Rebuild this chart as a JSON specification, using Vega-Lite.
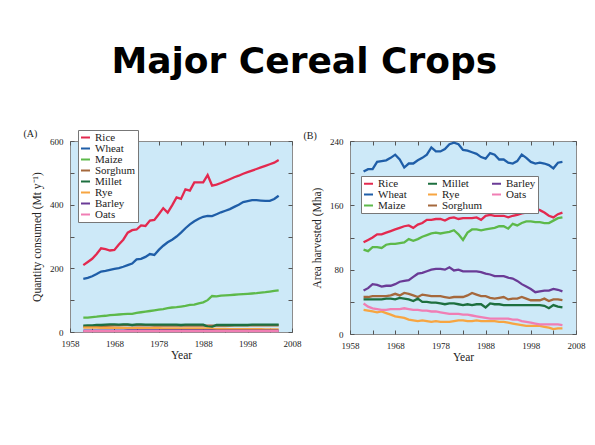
{
"$schema": "https://vega.github.io/schema/vega-lite/v6.json",
"background": "white",
"padding": {"left": 23, "top": 44, "right": 5, "bottom": 5},
"title": {"text": "Major Cereal Crops", "font": "DejaVu Sans", "fontWeight": "bold", "fontSize": 36, "color": "#000000", "anchor": "middle", "offset": 47},
"datasets": {
"A": [
{"crop":"Rice","year":1961,"value":210},{"crop":"Rice","year":1962,"value":220},{"crop":"Rice","year":1963,"value":230},{"crop":"Rice","year":1964,"value":245},{"crop":"Rice","year":1965,"value":263},{"crop":"Rice","year":1966,"value":260},{"crop":"Rice","year":1967,"value":256},{"crop":"Rice","year":1968,"value":258},{"crop":"Rice","year":1969,"value":275},{"crop":"Rice","year":1970,"value":290},{"crop":"Rice","year":1971,"value":312},{"crop":"Rice","year":1972,"value":320},{"crop":"Rice","year":1973,"value":322},{"crop":"Rice","year":1974,"value":335},{"crop":"Rice","year":1975,"value":333},{"crop":"Rice","year":1976,"value":350},{"crop":"Rice","year":1977,"value":352},{"crop":"Rice","year":1978,"value":370},{"crop":"Rice","year":1979,"value":389},{"crop":"Rice","year":1980,"value":375},{"crop":"Rice","year":1981,"value":398},{"crop":"Rice","year":1982,"value":423},{"crop":"Rice","year":1983,"value":418},{"crop":"Rice","year":1984,"value":448},{"crop":"Rice","year":1985,"value":444},{"crop":"Rice","year":1986,"value":470},{"crop":"Rice","year":1987,"value":470},{"crop":"Rice","year":1988,"value":470},{"crop":"Rice","year":1989,"value":493},{"crop":"Rice","year":1990,"value":460},{"crop":"Rice","year":1991,"value":463},{"crop":"Rice","year":1992,"value":468},{"crop":"Rice","year":1993,"value":474},{"crop":"Rice","year":1994,"value":480},{"crop":"Rice","year":1995,"value":486},{"crop":"Rice","year":1996,"value":491},{"crop":"Rice","year":1997,"value":497},{"crop":"Rice","year":1998,"value":502},{"crop":"Rice","year":1999,"value":507},{"crop":"Rice","year":2000,"value":512},{"crop":"Rice","year":2001,"value":517},{"crop":"Rice","year":2002,"value":522},{"crop":"Rice","year":2003,"value":527},{"crop":"Rice","year":2004,"value":532},{"crop":"Rice","year":2005,"value":540},
{"crop":"Wheat","year":1961,"value":167},{"crop":"Wheat","year":1962,"value":170},{"crop":"Wheat","year":1963,"value":175},{"crop":"Wheat","year":1964,"value":182},{"crop":"Wheat","year":1965,"value":190},{"crop":"Wheat","year":1966,"value":192},{"crop":"Wheat","year":1967,"value":195},{"crop":"Wheat","year":1968,"value":198},{"crop":"Wheat","year":1969,"value":201},{"crop":"Wheat","year":1970,"value":205},{"crop":"Wheat","year":1971,"value":210},{"crop":"Wheat","year":1972,"value":215},{"crop":"Wheat","year":1973,"value":228},{"crop":"Wheat","year":1974,"value":230},{"crop":"Wheat","year":1975,"value":236},{"crop":"Wheat","year":1976,"value":245},{"crop":"Wheat","year":1977,"value":242},{"crop":"Wheat","year":1978,"value":258},{"crop":"Wheat","year":1979,"value":271},{"crop":"Wheat","year":1980,"value":282},{"crop":"Wheat","year":1981,"value":290},{"crop":"Wheat","year":1982,"value":300},{"crop":"Wheat","year":1983,"value":312},{"crop":"Wheat","year":1984,"value":326},{"crop":"Wheat","year":1985,"value":338},{"crop":"Wheat","year":1986,"value":348},{"crop":"Wheat","year":1987,"value":356},{"crop":"Wheat","year":1988,"value":362},{"crop":"Wheat","year":1989,"value":365},{"crop":"Wheat","year":1990,"value":364},{"crop":"Wheat","year":1991,"value":370},{"crop":"Wheat","year":1992,"value":376},{"crop":"Wheat","year":1993,"value":381},{"crop":"Wheat","year":1994,"value":386},{"crop":"Wheat","year":1995,"value":393},{"crop":"Wheat","year":1996,"value":400},{"crop":"Wheat","year":1997,"value":408},{"crop":"Wheat","year":1998,"value":411},{"crop":"Wheat","year":1999,"value":414},{"crop":"Wheat","year":2000,"value":414},{"crop":"Wheat","year":2001,"value":413},{"crop":"Wheat","year":2002,"value":412},{"crop":"Wheat","year":2003,"value":412},{"crop":"Wheat","year":2004,"value":418},{"crop":"Wheat","year":2005,"value":428},
{"crop":"Maize","year":1961,"value":45},{"crop":"Maize","year":1962,"value":45},{"crop":"Maize","year":1963,"value":47},{"crop":"Maize","year":1964,"value":48},{"crop":"Maize","year":1965,"value":50},{"crop":"Maize","year":1966,"value":51},{"crop":"Maize","year":1967,"value":53},{"crop":"Maize","year":1968,"value":54},{"crop":"Maize","year":1969,"value":55},{"crop":"Maize","year":1970,"value":56},{"crop":"Maize","year":1971,"value":57},{"crop":"Maize","year":1972,"value":57},{"crop":"Maize","year":1973,"value":60},{"crop":"Maize","year":1974,"value":62},{"crop":"Maize","year":1975,"value":64},{"crop":"Maize","year":1976,"value":66},{"crop":"Maize","year":1977,"value":68},{"crop":"Maize","year":1978,"value":70},{"crop":"Maize","year":1979,"value":72},{"crop":"Maize","year":1980,"value":75},{"crop":"Maize","year":1981,"value":77},{"crop":"Maize","year":1982,"value":78},{"crop":"Maize","year":1983,"value":80},{"crop":"Maize","year":1984,"value":82},{"crop":"Maize","year":1985,"value":85},{"crop":"Maize","year":1986,"value":86},{"crop":"Maize","year":1987,"value":90},{"crop":"Maize","year":1988,"value":93},{"crop":"Maize","year":1989,"value":100},{"crop":"Maize","year":1990,"value":113},{"crop":"Maize","year":1991,"value":112},{"crop":"Maize","year":1992,"value":114},{"crop":"Maize","year":1993,"value":115},{"crop":"Maize","year":1994,"value":116},{"crop":"Maize","year":1995,"value":117},{"crop":"Maize","year":1996,"value":118},{"crop":"Maize","year":1997,"value":119},{"crop":"Maize","year":1998,"value":120},{"crop":"Maize","year":1999,"value":121},{"crop":"Maize","year":2000,"value":122},{"crop":"Maize","year":2001,"value":124},{"crop":"Maize","year":2002,"value":125},{"crop":"Maize","year":2003,"value":127},{"crop":"Maize","year":2004,"value":129},{"crop":"Maize","year":2005,"value":131},
{"crop":"Sorghum","year":1961,"value":17},{"crop":"Sorghum","year":1962,"value":17},{"crop":"Sorghum","year":1963,"value":18},{"crop":"Sorghum","year":1964,"value":18},{"crop":"Sorghum","year":1965,"value":19},{"crop":"Sorghum","year":1966,"value":19},{"crop":"Sorghum","year":1967,"value":20},{"crop":"Sorghum","year":1968,"value":21},{"crop":"Sorghum","year":1969,"value":21},{"crop":"Sorghum","year":1970,"value":22},{"crop":"Sorghum","year":1971,"value":22},{"crop":"Sorghum","year":1972,"value":21},{"crop":"Sorghum","year":1973,"value":21},{"crop":"Sorghum","year":1974,"value":21},{"crop":"Sorghum","year":1975,"value":21},{"crop":"Sorghum","year":1976,"value":21},{"crop":"Sorghum","year":1977,"value":20},{"crop":"Sorghum","year":1978,"value":20},{"crop":"Sorghum","year":1979,"value":20},{"crop":"Sorghum","year":1980,"value":20},{"crop":"Sorghum","year":1981,"value":20},{"crop":"Sorghum","year":1982,"value":20},{"crop":"Sorghum","year":1983,"value":20},{"crop":"Sorghum","year":1984,"value":20},{"crop":"Sorghum","year":1985,"value":20},{"crop":"Sorghum","year":1986,"value":20},{"crop":"Sorghum","year":1987,"value":20},{"crop":"Sorghum","year":1988,"value":20},{"crop":"Sorghum","year":1989,"value":20},{"crop":"Sorghum","year":1990,"value":20},{"crop":"Sorghum","year":1991,"value":20},{"crop":"Sorghum","year":1992,"value":20},{"crop":"Sorghum","year":1993,"value":20},{"crop":"Sorghum","year":1994,"value":20},{"crop":"Sorghum","year":1995,"value":21},{"crop":"Sorghum","year":1996,"value":21},{"crop":"Sorghum","year":1997,"value":21},{"crop":"Sorghum","year":1998,"value":21},{"crop":"Sorghum","year":1999,"value":21},{"crop":"Sorghum","year":2000,"value":21},{"crop":"Sorghum","year":2001,"value":21},{"crop":"Sorghum","year":2002,"value":21},{"crop":"Sorghum","year":2003,"value":21},{"crop":"Sorghum","year":2004,"value":21},{"crop":"Sorghum","year":2005,"value":21},
{"crop":"Millet","year":1961,"value":20},{"crop":"Millet","year":1962,"value":21},{"crop":"Millet","year":1963,"value":21},{"crop":"Millet","year":1964,"value":22},{"crop":"Millet","year":1965,"value":22},{"crop":"Millet","year":1966,"value":23},{"crop":"Millet","year":1967,"value":24},{"crop":"Millet","year":1968,"value":24},{"crop":"Millet","year":1969,"value":23},{"crop":"Millet","year":1970,"value":24},{"crop":"Millet","year":1971,"value":24},{"crop":"Millet","year":1972,"value":22},{"crop":"Millet","year":1973,"value":24},{"crop":"Millet","year":1974,"value":24},{"crop":"Millet","year":1975,"value":23},{"crop":"Millet","year":1976,"value":23},{"crop":"Millet","year":1977,"value":23},{"crop":"Millet","year":1978,"value":23},{"crop":"Millet","year":1979,"value":23},{"crop":"Millet","year":1980,"value":23},{"crop":"Millet","year":1981,"value":23},{"crop":"Millet","year":1982,"value":23},{"crop":"Millet","year":1983,"value":22},{"crop":"Millet","year":1984,"value":23},{"crop":"Millet","year":1985,"value":23},{"crop":"Millet","year":1986,"value":23},{"crop":"Millet","year":1987,"value":23},{"crop":"Millet","year":1988,"value":23},{"crop":"Millet","year":1989,"value":17},{"crop":"Millet","year":1990,"value":16},{"crop":"Millet","year":1991,"value":22},{"crop":"Millet","year":1992,"value":22},{"crop":"Millet","year":1993,"value":22},{"crop":"Millet","year":1994,"value":22},{"crop":"Millet","year":1995,"value":22},{"crop":"Millet","year":1996,"value":22},{"crop":"Millet","year":1997,"value":22},{"crop":"Millet","year":1998,"value":22},{"crop":"Millet","year":1999,"value":23},{"crop":"Millet","year":2000,"value":23},{"crop":"Millet","year":2001,"value":23},{"crop":"Millet","year":2002,"value":23},{"crop":"Millet","year":2003,"value":23},{"crop":"Millet","year":2004,"value":23},{"crop":"Millet","year":2005,"value":23},
{"crop":"Rye","year":1961,"value":14},{"crop":"Rye","year":1962,"value":14},{"crop":"Rye","year":1963,"value":14},{"crop":"Rye","year":1964,"value":14},{"crop":"Rye","year":1965,"value":13},{"crop":"Rye","year":1966,"value":13},{"crop":"Rye","year":1967,"value":13},{"crop":"Rye","year":1968,"value":13},{"crop":"Rye","year":1969,"value":13},{"crop":"Rye","year":1970,"value":13},{"crop":"Rye","year":1971,"value":12},{"crop":"Rye","year":1972,"value":12},{"crop":"Rye","year":1973,"value":12},{"crop":"Rye","year":1974,"value":12},{"crop":"Rye","year":1975,"value":12},{"crop":"Rye","year":1976,"value":12},{"crop":"Rye","year":1977,"value":12},{"crop":"Rye","year":1978,"value":12},{"crop":"Rye","year":1979,"value":11},{"crop":"Rye","year":1980,"value":11},{"crop":"Rye","year":1981,"value":11},{"crop":"Rye","year":1982,"value":11},{"crop":"Rye","year":1983,"value":11},{"crop":"Rye","year":1984,"value":11},{"crop":"Rye","year":1985,"value":11},{"crop":"Rye","year":1986,"value":11},{"crop":"Rye","year":1987,"value":11},{"crop":"Rye","year":1988,"value":11},{"crop":"Rye","year":1989,"value":11},{"crop":"Rye","year":1990,"value":10},{"crop":"Rye","year":1991,"value":10},{"crop":"Rye","year":1992,"value":10},{"crop":"Rye","year":1993,"value":10},{"crop":"Rye","year":1994,"value":9},{"crop":"Rye","year":1995,"value":9},{"crop":"Rye","year":1996,"value":9},{"crop":"Rye","year":1997,"value":9},{"crop":"Rye","year":1998,"value":9},{"crop":"Rye","year":1999,"value":9},{"crop":"Rye","year":2000,"value":9},{"crop":"Rye","year":2001,"value":9},{"crop":"Rye","year":2002,"value":8},{"crop":"Rye","year":2003,"value":8},{"crop":"Rye","year":2004,"value":8},{"crop":"Rye","year":2005,"value":8},
{"crop":"Barley","year":1961,"value":4},{"crop":"Barley","year":1962,"value":4},{"crop":"Barley","year":1963,"value":4},{"crop":"Barley","year":1964,"value":4},{"crop":"Barley","year":1965,"value":4},{"crop":"Barley","year":1966,"value":4},{"crop":"Barley","year":1967,"value":4},{"crop":"Barley","year":1968,"value":4},{"crop":"Barley","year":1969,"value":4},{"crop":"Barley","year":1970,"value":4},{"crop":"Barley","year":1971,"value":5},{"crop":"Barley","year":1972,"value":5},{"crop":"Barley","year":1973,"value":5},{"crop":"Barley","year":1974,"value":5},{"crop":"Barley","year":1975,"value":5},{"crop":"Barley","year":1976,"value":5},{"crop":"Barley","year":1977,"value":5},{"crop":"Barley","year":1978,"value":5},{"crop":"Barley","year":1979,"value":5},{"crop":"Barley","year":1980,"value":5},{"crop":"Barley","year":1981,"value":5},{"crop":"Barley","year":1982,"value":5},{"crop":"Barley","year":1983,"value":5},{"crop":"Barley","year":1984,"value":5},{"crop":"Barley","year":1985,"value":5},{"crop":"Barley","year":1986,"value":5},{"crop":"Barley","year":1987,"value":5},{"crop":"Barley","year":1988,"value":5},{"crop":"Barley","year":1989,"value":5},{"crop":"Barley","year":1990,"value":5},{"crop":"Barley","year":1991,"value":4},{"crop":"Barley","year":1992,"value":4},{"crop":"Barley","year":1993,"value":4},{"crop":"Barley","year":1994,"value":4},{"crop":"Barley","year":1995,"value":4},{"crop":"Barley","year":1996,"value":4},{"crop":"Barley","year":1997,"value":4},{"crop":"Barley","year":1998,"value":4},{"crop":"Barley","year":1999,"value":4},{"crop":"Barley","year":2000,"value":4},{"crop":"Barley","year":2001,"value":4},{"crop":"Barley","year":2002,"value":4},{"crop":"Barley","year":2003,"value":4},{"crop":"Barley","year":2004,"value":4},{"crop":"Barley","year":2005,"value":4},
{"crop":"Oats","year":1961,"value":3},{"crop":"Oats","year":1962,"value":3},{"crop":"Oats","year":1963,"value":3},{"crop":"Oats","year":1964,"value":3},{"crop":"Oats","year":1965,"value":3},{"crop":"Oats","year":1966,"value":3},{"crop":"Oats","year":1967,"value":3},{"crop":"Oats","year":1968,"value":3},{"crop":"Oats","year":1969,"value":3},{"crop":"Oats","year":1970,"value":3},{"crop":"Oats","year":1971,"value":3},{"crop":"Oats","year":1972,"value":3},{"crop":"Oats","year":1973,"value":3},{"crop":"Oats","year":1974,"value":3},{"crop":"Oats","year":1975,"value":3},{"crop":"Oats","year":1976,"value":3},{"crop":"Oats","year":1977,"value":3},{"crop":"Oats","year":1978,"value":3},{"crop":"Oats","year":1979,"value":3},{"crop":"Oats","year":1980,"value":3},{"crop":"Oats","year":1981,"value":3},{"crop":"Oats","year":1982,"value":3},{"crop":"Oats","year":1983,"value":3},{"crop":"Oats","year":1984,"value":3},{"crop":"Oats","year":1985,"value":3},{"crop":"Oats","year":1986,"value":3},{"crop":"Oats","year":1987,"value":3},{"crop":"Oats","year":1988,"value":3},{"crop":"Oats","year":1989,"value":3},{"crop":"Oats","year":1990,"value":3},{"crop":"Oats","year":1991,"value":3},{"crop":"Oats","year":1992,"value":3},{"crop":"Oats","year":1993,"value":3},{"crop":"Oats","year":1994,"value":3},{"crop":"Oats","year":1995,"value":3},{"crop":"Oats","year":1996,"value":3},{"crop":"Oats","year":1997,"value":3},{"crop":"Oats","year":1998,"value":3},{"crop":"Oats","year":1999,"value":3},{"crop":"Oats","year":2000,"value":3},{"crop":"Oats","year":2001,"value":3},{"crop":"Oats","year":2002,"value":3},{"crop":"Oats","year":2003,"value":3},{"crop":"Oats","year":2004,"value":3},{"crop":"Oats","year":2005,"value":3}
],
"B": [
{"crop":"Rice","year":1961,"value":114},{"crop":"Rice","year":1962,"value":117},{"crop":"Rice","year":1963,"value":120},{"crop":"Rice","year":1964,"value":124},{"crop":"Rice","year":1965,"value":124},{"crop":"Rice","year":1966,"value":126},{"crop":"Rice","year":1967,"value":128},{"crop":"Rice","year":1968,"value":130},{"crop":"Rice","year":1969,"value":132},{"crop":"Rice","year":1970,"value":134},{"crop":"Rice","year":1971,"value":135},{"crop":"Rice","year":1972,"value":132},{"crop":"Rice","year":1973,"value":136},{"crop":"Rice","year":1974,"value":138},{"crop":"Rice","year":1975,"value":142},{"crop":"Rice","year":1976,"value":142},{"crop":"Rice","year":1977,"value":143},{"crop":"Rice","year":1978,"value":143},{"crop":"Rice","year":1979,"value":141},{"crop":"Rice","year":1980,"value":144},{"crop":"Rice","year":1981,"value":145},{"crop":"Rice","year":1982,"value":143},{"crop":"Rice","year":1983,"value":144},{"crop":"Rice","year":1984,"value":144},{"crop":"Rice","year":1985,"value":144},{"crop":"Rice","year":1986,"value":145},{"crop":"Rice","year":1987,"value":142},{"crop":"Rice","year":1988,"value":147},{"crop":"Rice","year":1989,"value":148},{"crop":"Rice","year":1990,"value":147},{"crop":"Rice","year":1991,"value":147},{"crop":"Rice","year":1992,"value":147},{"crop":"Rice","year":1993,"value":145},{"crop":"Rice","year":1994,"value":147},{"crop":"Rice","year":1995,"value":148},{"crop":"Rice","year":1996,"value":150},{"crop":"Rice","year":1997,"value":151},{"crop":"Rice","year":1998,"value":152},{"crop":"Rice","year":1999,"value":156},{"crop":"Rice","year":2000,"value":154},{"crop":"Rice","year":2001,"value":151},{"crop":"Rice","year":2002,"value":147},{"crop":"Rice","year":2003,"value":145},{"crop":"Rice","year":2004,"value":149},{"crop":"Rice","year":2005,"value":151},
{"crop":"Wheat","year":1961,"value":202},{"crop":"Wheat","year":1962,"value":205},{"crop":"Wheat","year":1963,"value":205},{"crop":"Wheat","year":1964,"value":214},{"crop":"Wheat","year":1965,"value":215},{"crop":"Wheat","year":1966,"value":216},{"crop":"Wheat","year":1967,"value":219},{"crop":"Wheat","year":1968,"value":223},{"crop":"Wheat","year":1969,"value":217},{"crop":"Wheat","year":1970,"value":207},{"crop":"Wheat","year":1971,"value":212},{"crop":"Wheat","year":1972,"value":212},{"crop":"Wheat","year":1973,"value":216},{"crop":"Wheat","year":1974,"value":219},{"crop":"Wheat","year":1975,"value":223},{"crop":"Wheat","year":1976,"value":232},{"crop":"Wheat","year":1977,"value":227},{"crop":"Wheat","year":1978,"value":227},{"crop":"Wheat","year":1979,"value":230},{"crop":"Wheat","year":1980,"value":236},{"crop":"Wheat","year":1981,"value":238},{"crop":"Wheat","year":1982,"value":236},{"crop":"Wheat","year":1983,"value":229},{"crop":"Wheat","year":1984,"value":228},{"crop":"Wheat","year":1985,"value":226},{"crop":"Wheat","year":1986,"value":224},{"crop":"Wheat","year":1987,"value":220},{"crop":"Wheat","year":1988,"value":218},{"crop":"Wheat","year":1989,"value":225},{"crop":"Wheat","year":1990,"value":223},{"crop":"Wheat","year":1991,"value":217},{"crop":"Wheat","year":1992,"value":217},{"crop":"Wheat","year":1993,"value":213},{"crop":"Wheat","year":1994,"value":212},{"crop":"Wheat","year":1995,"value":215},{"crop":"Wheat","year":1996,"value":223},{"crop":"Wheat","year":1997,"value":219},{"crop":"Wheat","year":1998,"value":214},{"crop":"Wheat","year":1999,"value":212},{"crop":"Wheat","year":2000,"value":213},{"crop":"Wheat","year":2001,"value":212},{"crop":"Wheat","year":2002,"value":210},{"crop":"Wheat","year":2003,"value":206},{"crop":"Wheat","year":2004,"value":213},{"crop":"Wheat","year":2005,"value":214},
{"crop":"Maize","year":1961,"value":105},{"crop":"Maize","year":1962,"value":103},{"crop":"Maize","year":1963,"value":108},{"crop":"Maize","year":1964,"value":108},{"crop":"Maize","year":1965,"value":107},{"crop":"Maize","year":1966,"value":111},{"crop":"Maize","year":1967,"value":112},{"crop":"Maize","year":1968,"value":112},{"crop":"Maize","year":1969,"value":113},{"crop":"Maize","year":1970,"value":114},{"crop":"Maize","year":1971,"value":118},{"crop":"Maize","year":1972,"value":116},{"crop":"Maize","year":1973,"value":118},{"crop":"Maize","year":1974,"value":121},{"crop":"Maize","year":1975,"value":123},{"crop":"Maize","year":1976,"value":125},{"crop":"Maize","year":1977,"value":126},{"crop":"Maize","year":1978,"value":125},{"crop":"Maize","year":1979,"value":126},{"crop":"Maize","year":1980,"value":127},{"crop":"Maize","year":1981,"value":129},{"crop":"Maize","year":1982,"value":124},{"crop":"Maize","year":1983,"value":117},{"crop":"Maize","year":1984,"value":126},{"crop":"Maize","year":1985,"value":130},{"crop":"Maize","year":1986,"value":130},{"crop":"Maize","year":1987,"value":129},{"crop":"Maize","year":1988,"value":130},{"crop":"Maize","year":1989,"value":131},{"crop":"Maize","year":1990,"value":132},{"crop":"Maize","year":1991,"value":134},{"crop":"Maize","year":1992,"value":134},{"crop":"Maize","year":1993,"value":131},{"crop":"Maize","year":1994,"value":137},{"crop":"Maize","year":1995,"value":135},{"crop":"Maize","year":1996,"value":138},{"crop":"Maize","year":1997,"value":140},{"crop":"Maize","year":1998,"value":140},{"crop":"Maize","year":1999,"value":139},{"crop":"Maize","year":2000,"value":139},{"crop":"Maize","year":2001,"value":138},{"crop":"Maize","year":2002,"value":138},{"crop":"Maize","year":2003,"value":141},{"crop":"Maize","year":2004,"value":144},{"crop":"Maize","year":2005,"value":145},
{"crop":"Barley","year":1961,"value":54},{"crop":"Barley","year":1962,"value":57},{"crop":"Barley","year":1963,"value":62},{"crop":"Barley","year":1964,"value":61},{"crop":"Barley","year":1965,"value":59},{"crop":"Barley","year":1966,"value":60},{"crop":"Barley","year":1967,"value":60},{"crop":"Barley","year":1968,"value":62},{"crop":"Barley","year":1969,"value":65},{"crop":"Barley","year":1970,"value":66},{"crop":"Barley","year":1971,"value":67},{"crop":"Barley","year":1972,"value":71},{"crop":"Barley","year":1973,"value":75},{"crop":"Barley","year":1974,"value":76},{"crop":"Barley","year":1975,"value":78},{"crop":"Barley","year":1976,"value":80},{"crop":"Barley","year":1977,"value":81},{"crop":"Barley","year":1978,"value":81},{"crop":"Barley","year":1979,"value":80},{"crop":"Barley","year":1980,"value":83},{"crop":"Barley","year":1981,"value":79},{"crop":"Barley","year":1982,"value":80},{"crop":"Barley","year":1983,"value":78},{"crop":"Barley","year":1984,"value":78},{"crop":"Barley","year":1985,"value":78},{"crop":"Barley","year":1986,"value":78},{"crop":"Barley","year":1987,"value":77},{"crop":"Barley","year":1988,"value":75},{"crop":"Barley","year":1989,"value":74},{"crop":"Barley","year":1990,"value":72},{"crop":"Barley","year":1991,"value":72},{"crop":"Barley","year":1992,"value":72},{"crop":"Barley","year":1993,"value":70},{"crop":"Barley","year":1994,"value":69},{"crop":"Barley","year":1995,"value":66},{"crop":"Barley","year":1996,"value":62},{"crop":"Barley","year":1997,"value":59},{"crop":"Barley","year":1998,"value":56},{"crop":"Barley","year":1999,"value":52},{"crop":"Barley","year":2000,"value":53},{"crop":"Barley","year":2001,"value":54},{"crop":"Barley","year":2002,"value":54},{"crop":"Barley","year":2003,"value":56},{"crop":"Barley","year":2004,"value":55},{"crop":"Barley","year":2005,"value":53},
{"crop":"Sorghum","year":1961,"value":46},{"crop":"Sorghum","year":1962,"value":46},{"crop":"Sorghum","year":1963,"value":47},{"crop":"Sorghum","year":1964,"value":47},{"crop":"Sorghum","year":1965,"value":47},{"crop":"Sorghum","year":1966,"value":47},{"crop":"Sorghum","year":1967,"value":48},{"crop":"Sorghum","year":1968,"value":50},{"crop":"Sorghum","year":1969,"value":48},{"crop":"Sorghum","year":1970,"value":51},{"crop":"Sorghum","year":1971,"value":50},{"crop":"Sorghum","year":1972,"value":48},{"crop":"Sorghum","year":1973,"value":46},{"crop":"Sorghum","year":1974,"value":49},{"crop":"Sorghum","year":1975,"value":48},{"crop":"Sorghum","year":1976,"value":47},{"crop":"Sorghum","year":1977,"value":47},{"crop":"Sorghum","year":1978,"value":47},{"crop":"Sorghum","year":1979,"value":46},{"crop":"Sorghum","year":1980,"value":45},{"crop":"Sorghum","year":1981,"value":46},{"crop":"Sorghum","year":1982,"value":46},{"crop":"Sorghum","year":1983,"value":46},{"crop":"Sorghum","year":1984,"value":48},{"crop":"Sorghum","year":1985,"value":51},{"crop":"Sorghum","year":1986,"value":49},{"crop":"Sorghum","year":1987,"value":47},{"crop":"Sorghum","year":1988,"value":47},{"crop":"Sorghum","year":1989,"value":45},{"crop":"Sorghum","year":1990,"value":44},{"crop":"Sorghum","year":1991,"value":45},{"crop":"Sorghum","year":1992,"value":46},{"crop":"Sorghum","year":1993,"value":43},{"crop":"Sorghum","year":1994,"value":44},{"crop":"Sorghum","year":1995,"value":44},{"crop":"Sorghum","year":1996,"value":46},{"crop":"Sorghum","year":1997,"value":44},{"crop":"Sorghum","year":1998,"value":42},{"crop":"Sorghum","year":1999,"value":42},{"crop":"Sorghum","year":2000,"value":42},{"crop":"Sorghum","year":2001,"value":44},{"crop":"Sorghum","year":2002,"value":41},{"crop":"Sorghum","year":2003,"value":43},{"crop":"Sorghum","year":2004,"value":43},{"crop":"Sorghum","year":2005,"value":42},
{"crop":"Millet","year":1961,"value":43},{"crop":"Millet","year":1962,"value":43},{"crop":"Millet","year":1963,"value":43},{"crop":"Millet","year":1964,"value":43},{"crop":"Millet","year":1965,"value":43},{"crop":"Millet","year":1966,"value":44},{"crop":"Millet","year":1967,"value":44},{"crop":"Millet","year":1968,"value":43},{"crop":"Millet","year":1969,"value":45},{"crop":"Millet","year":1970,"value":44},{"crop":"Millet","year":1971,"value":43},{"crop":"Millet","year":1972,"value":41},{"crop":"Millet","year":1973,"value":44},{"crop":"Millet","year":1974,"value":40},{"crop":"Millet","year":1975,"value":40},{"crop":"Millet","year":1976,"value":39},{"crop":"Millet","year":1977,"value":39},{"crop":"Millet","year":1978,"value":38},{"crop":"Millet","year":1979,"value":37},{"crop":"Millet","year":1980,"value":38},{"crop":"Millet","year":1981,"value":38},{"crop":"Millet","year":1982,"value":37},{"crop":"Millet","year":1983,"value":36},{"crop":"Millet","year":1984,"value":37},{"crop":"Millet","year":1985,"value":36},{"crop":"Millet","year":1986,"value":37},{"crop":"Millet","year":1987,"value":37},{"crop":"Millet","year":1988,"value":33},{"crop":"Millet","year":1989,"value":38},{"crop":"Millet","year":1990,"value":37},{"crop":"Millet","year":1991,"value":37},{"crop":"Millet","year":1992,"value":36},{"crop":"Millet","year":1993,"value":36},{"crop":"Millet","year":1994,"value":36},{"crop":"Millet","year":1995,"value":36},{"crop":"Millet","year":1996,"value":36},{"crop":"Millet","year":1997,"value":36},{"crop":"Millet","year":1998,"value":36},{"crop":"Millet","year":1999,"value":36},{"crop":"Millet","year":2000,"value":36},{"crop":"Millet","year":2001,"value":35},{"crop":"Millet","year":2002,"value":32},{"crop":"Millet","year":2003,"value":36},{"crop":"Millet","year":2004,"value":34},{"crop":"Millet","year":2005,"value":33},
{"crop":"Rye","year":1961,"value":30},{"crop":"Rye","year":1962,"value":29},{"crop":"Rye","year":1963,"value":28},{"crop":"Rye","year":1964,"value":27},{"crop":"Rye","year":1965,"value":28},{"crop":"Rye","year":1966,"value":26},{"crop":"Rye","year":1967,"value":24},{"crop":"Rye","year":1968,"value":22},{"crop":"Rye","year":1969,"value":21},{"crop":"Rye","year":1970,"value":20},{"crop":"Rye","year":1971,"value":18},{"crop":"Rye","year":1972,"value":17},{"crop":"Rye","year":1973,"value":16},{"crop":"Rye","year":1974,"value":17},{"crop":"Rye","year":1975,"value":16},{"crop":"Rye","year":1976,"value":15},{"crop":"Rye","year":1977,"value":16},{"crop":"Rye","year":1978,"value":15},{"crop":"Rye","year":1979,"value":15},{"crop":"Rye","year":1980,"value":15},{"crop":"Rye","year":1981,"value":16},{"crop":"Rye","year":1982,"value":17},{"crop":"Rye","year":1983,"value":17},{"crop":"Rye","year":1984,"value":16},{"crop":"Rye","year":1985,"value":16},{"crop":"Rye","year":1986,"value":17},{"crop":"Rye","year":1987,"value":16},{"crop":"Rye","year":1988,"value":16},{"crop":"Rye","year":1989,"value":16},{"crop":"Rye","year":1990,"value":16},{"crop":"Rye","year":1991,"value":15},{"crop":"Rye","year":1992,"value":15},{"crop":"Rye","year":1993,"value":14},{"crop":"Rye","year":1994,"value":13},{"crop":"Rye","year":1995,"value":12},{"crop":"Rye","year":1996,"value":11},{"crop":"Rye","year":1997,"value":10},{"crop":"Rye","year":1998,"value":10},{"crop":"Rye","year":1999,"value":10},{"crop":"Rye","year":2000,"value":10},{"crop":"Rye","year":2001,"value":9},{"crop":"Rye","year":2002,"value":8},{"crop":"Rye","year":2003,"value":6},{"crop":"Rye","year":2004,"value":7},{"crop":"Rye","year":2005,"value":7},
{"crop":"Oats","year":1961,"value":38},{"crop":"Oats","year":1962,"value":34},{"crop":"Oats","year":1963,"value":32},{"crop":"Oats","year":1964,"value":31},{"crop":"Oats","year":1965,"value":30},{"crop":"Oats","year":1966,"value":30},{"crop":"Oats","year":1967,"value":31},{"crop":"Oats","year":1968,"value":31},{"crop":"Oats","year":1969,"value":31},{"crop":"Oats","year":1970,"value":32},{"crop":"Oats","year":1971,"value":31},{"crop":"Oats","year":1972,"value":30},{"crop":"Oats","year":1973,"value":30},{"crop":"Oats","year":1974,"value":29},{"crop":"Oats","year":1975,"value":29},{"crop":"Oats","year":1976,"value":28},{"crop":"Oats","year":1977,"value":28},{"crop":"Oats","year":1978,"value":27},{"crop":"Oats","year":1979,"value":26},{"crop":"Oats","year":1980,"value":25},{"crop":"Oats","year":1981,"value":25},{"crop":"Oats","year":1982,"value":25},{"crop":"Oats","year":1983,"value":24},{"crop":"Oats","year":1984,"value":24},{"crop":"Oats","year":1985,"value":23},{"crop":"Oats","year":1986,"value":22},{"crop":"Oats","year":1987,"value":21},{"crop":"Oats","year":1988,"value":20},{"crop":"Oats","year":1989,"value":19},{"crop":"Oats","year":1990,"value":19},{"crop":"Oats","year":1991,"value":19},{"crop":"Oats","year":1992,"value":19},{"crop":"Oats","year":1993,"value":19},{"crop":"Oats","year":1994,"value":18},{"crop":"Oats","year":1995,"value":18},{"crop":"Oats","year":1996,"value":16},{"crop":"Oats","year":1997,"value":15},{"crop":"Oats","year":1998,"value":14},{"crop":"Oats","year":1999,"value":13},{"crop":"Oats","year":2000,"value":12},{"crop":"Oats","year":2001,"value":12},{"crop":"Oats","year":2002,"value":12},{"crop":"Oats","year":2003,"value":12},{"crop":"Oats","year":2004,"value":12},{"crop":"Oats","year":2005,"value":11}
]
},
"spacing": 1,
"resolve": {"scale": {"color": "independent"}, "legend": {"color": "independent"}},
"hconcat": [
{
"width": 222, "height": 191,
"title": {"text": "(A)", "anchor": "start", "frame": "bounds", "dx": -8, "offset": -9, "fontSize": 10, "fontWeight": "normal", "font": "Liberation Serif", "color": "#222222"},
"data": {"name": "A"},
"layer": [
{"mark": {"type": "line", "strokeWidth": 2.3},
"encoding": {
"x": {"field": "year", "type": "quantitative", "scale": {"domain": [1958, 2008], "nice": false, "zero": false},
"axis": {"orient": "bottom", "title": "Year", "values": [1958,1963,1968,1973,1978,1983,1988,1993,1998,2003,2008], "format": "d", "labelExpr": "datum.value % 10 == 8 ? datum.label : ''", "labelPadding": 11, "titlePadding": 1}},
"y": {"field": "value", "type": "quantitative", "scale": {"domain": [0, 600], "nice": false},
"axis": {"orient": "left", "title": "Quantity consumed (Mt y⁻¹)", "values": [0,100,200,300,400,500,600], "labelExpr": "datum.value % 200 == 0 ? datum.label : ''", "labelPadding": 11, "titlePadding": 7}},
"color": {"field": "crop", "type": "nominal",
"scale": {"domain": ["Rice","Wheat","Maize","Sorghum","Millet","Rye","Barley","Oats"], "range": ["#e3294f","#1f5ea8","#5db94a","#a5683c","#1d6f3f","#f7a541","#6a3b96","#f07eb4"]},
"legend": {"title": null, "orient": "none", "legendX": 8, "legendY": -11, "direction": "vertical"}}
}},
{"mark": {"type": "line", "opacity": 0},
"encoding": {
"x": {"field": "year", "type": "quantitative", "axis": {"orient": "top", "title": null, "labels": false, "values": [1958,1963,1968,1973,1978,1983,1988,1993,1998,2003,2008]}},
"y": {"field": "value", "type": "quantitative", "axis": {"orient": "right", "title": null, "labels": false, "values": [0,100,200,300,400,500,600]}},
"detail": {"field": "crop"}
}}
],
"resolve": {"axis": {"x": "independent", "y": "independent"}}
},
{
"width": 226, "height": 193,
"title": {"text": "(B)", "anchor": "start", "frame": "bounds", "dx": -8, "offset": -4, "fontSize": 10, "fontWeight": "normal", "font": "Liberation Serif", "color": "#222222"},
"data": {"name": "B"},
"layer": [
{"mark": {"type": "line", "strokeWidth": 2.3},
"encoding": {
"x": {"field": "year", "type": "quantitative", "scale": {"domain": [1958, 2008], "nice": false, "zero": false},
"axis": {"orient": "bottom", "title": "Year", "values": [1958,1963,1968,1973,1978,1983,1988,1993,1998,2003,2008], "format": "d", "labelExpr": "datum.value % 10 == 8 ? datum.label : ''", "labelPadding": 11, "titlePadding": 1}},
"y": {"field": "value", "type": "quantitative", "scale": {"domain": [0, 240], "nice": false},
"axis": {"orient": "left", "title": "Area harvested (Mha)", "values": [0,40,80,120,160,200,240], "labelExpr": "datum.value % 80 == 0 ? datum.label : ''", "labelPadding": 11, "titlePadding": 7}},
"color": {"field": "crop", "type": "nominal",
"scale": {"domain": ["Rice","Wheat","Maize","Millet","Rye","Sorghum","Barley","Oats"], "range": ["#e3294f","#1f5ea8","#5db94a","#1d6f3f","#f7a541","#a5683c","#6a3b96","#f07eb4"]},
"legend": {"title": null, "orient": "none", "legendX": 11, "legendY": 35, "columns": 3, "gridAlign": "all", "columnPadding": 5}}
}},
{"mark": {"type": "line", "opacity": 0},
"encoding": {
"x": {"field": "year", "type": "quantitative", "axis": {"orient": "top", "title": null, "labels": false, "values": [1958,1963,1968,1973,1978,1983,1988,1993,1998,2003,2008]}},
"y": {"field": "value", "type": "quantitative", "axis": {"orient": "right", "title": null, "labels": false, "values": [0,40,80,120,160,200,240]}},
"detail": {"field": "crop"}
}}
],
"resolve": {"axis": {"x": "independent", "y": "independent"}}
}
],
"config": {
"font": "Liberation Serif",
"view": {"fill": "#cde9f8", "stroke": "#8c8c8c", "strokeWidth": 1},
"axis": {"domain": false, "grid": false, "tickColor": "#555555", "tickSize": -4, "labelFont": "Liberation Serif", "labelFontSize": 9, "labelColor": "#222222", "titleFont": "Liberation Serif", "titleFontSize": 11.5, "titleFontWeight": "normal", "titleColor": "#222222", "labelOverlap": false, "labelFlush": false},
"legend": {"labelFont": "Liberation Serif", "labelFontSize": 11, "labelColor": "#222222", "symbolType": "stroke", "symbolStrokeWidth": 2, "symbolSize": 81, "fillColor": "white", "strokeColor": "#777777", "padding": 2, "rowPadding": -2, "labelOffset": 4}
}
}
